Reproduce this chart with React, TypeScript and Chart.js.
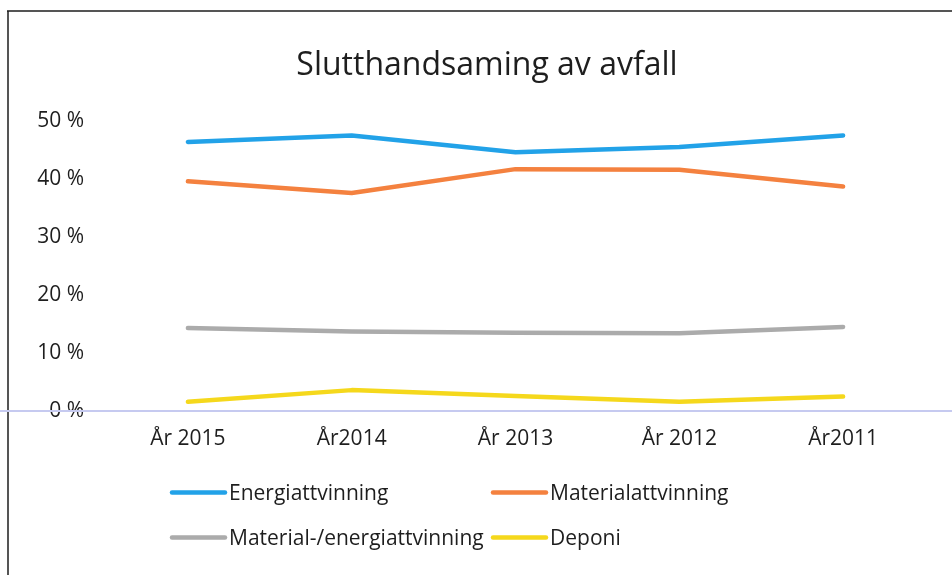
import React, { useEffect, useRef } from "react";
import { Chart, registerables } from "chart.js";

Chart.register(...registerables);

const chartTitle = "Slutthandsaming av avfall";
const categories = ["År 2015", "År2014", "År 2013", "År 2012", "År2011"];
const seriesNames = [
  "Energiattvinning",
  "Materialattvinning",
  "Material-/energiattvinning",
  "Deponi",
];
const energiattvinning = [46.4, 47.5, 44.6, 45.5, 47.5];
const materialattvinning = [39.6, 37.6, 41.7, 41.6, 38.7];
const materialEnergiattvinning = [14.3, 13.7, 13.5, 13.4, 14.5];
const deponi = [1.6, 3.6, 2.6, 1.6, 2.5];
const yMin = 0;
const yMax = 50;
const yStep = 10;

const seriesColors = ["#22a2e8", "#f4813f", "#ababab", "#f5d81c"];
const TEXT = "#1e1e1e";
const FONT = "'Open Sans', 'DejaVu Sans', sans-serif";

const framePlugin = {
  id: "frame",
  beforeDraw(chart: any) {
    const { ctx, width, height } = chart;
    ctx.save();
    ctx.fillStyle = "#ffffff";
    ctx.fillRect(0, 0, width, height);
    ctx.strokeStyle = "#1e1e1e";
    ctx.lineWidth = 1.5;
    ctx.beginPath();
    ctx.moveTo(7, 11);
    ctx.lineTo(width, 11);
    ctx.moveTo(8, 11);
    ctx.lineTo(8, height);
    ctx.stroke();
    ctx.restore();
  },
};

const titlePlugin = {
  id: "centeredTitle",
  afterDraw(chart: any) {
    const { ctx } = chart;
    ctx.save();
    ctx.fillStyle = TEXT;
    ctx.font = `32px ${FONT}`;
    ctx.textAlign = "center";
    ctx.textBaseline = "middle";
    ctx.fillText(chartTitle, 487, 66);
    ctx.restore();
  },
};

const zeroLinePlugin = {
  id: "zeroLine",
  beforeDatasetsDraw(chart: any) {
    const { ctx, width } = chart;
    const y = chart.scales.y.getPixelForValue(0);
    ctx.save();
    ctx.strokeStyle = "#c6caf0";
    ctx.lineWidth = 2;
    ctx.beginPath();
    ctx.moveTo(0, y);
    ctx.lineTo(width, y);
    ctx.stroke();
    ctx.restore();
  },
};

const gridLegendPlugin = {
  id: "gridLegend",
  afterDraw(chart: any) {
    const { ctx } = chart;
    const colX = [170, 491];
    const rowY = [494, 539];
    chart.data.datasets.forEach((ds: any, i: number) => {
      const x = colX[i % 2];
      const y = rowY[Math.floor(i / 2)];
      ctx.save();
      ctx.strokeStyle = ds.borderColor;
      ctx.lineWidth = 4.5;
      ctx.lineCap = "round";
      ctx.beginPath();
      ctx.moveTo(x + 2, y - 1.5);
      ctx.lineTo(x + 55, y - 1.5);
      ctx.stroke();
      ctx.fillStyle = TEXT;
      ctx.font = `21px ${FONT}`;
      ctx.textBaseline = "middle";
      ctx.textAlign = "left";
      ctx.fillText(ds.label, x + 59, y);
      ctx.restore();
    });
  },
};

export default function App() {
  const canvasRef = useRef<HTMLCanvasElement | null>(null);

  useEffect(() => {
    if (!canvasRef.current) return;
    const values = [energiattvinning, materialattvinning, materialEnergiattvinning, deponi];
    const chart = new Chart(canvasRef.current, {
      type: "line",
      data: {
        labels: categories,
        datasets: seriesNames.map((name, i) => ({
          label: name,
          data: values[i],
          borderColor: seriesColors[i],
          backgroundColor: seriesColors[i],
          borderWidth: 4.5,
          borderCapStyle: "round",
          borderJoinStyle: "round",
          pointRadius: 0,
          pointHoverRadius: 0,
          tension: 0,
          fill: false,
        })),
      },
      options: {
        responsive: false,
        animation: false,
        devicePixelRatio: 1,
        layout: { padding: { left: 0, right: 27, top: 121, bottom: 124 } },
        plugins: {
          legend: { display: false },
          tooltip: { enabled: false },
          title: { display: false },
        },
        scales: {
          x: {
            type: "category",
            offset: true,
            grid: { display: false, drawTicks: false },
            border: { display: false },
            ticks: {
              color: TEXT,
              font: { family: FONT, size: 21 },
              padding: 15,
              maxRotation: 0,
              autoSkip: false,
            },
            afterFit: (scale: any) => {
              scale.height = 40;
            },
          },
          y: {
            min: yMin,
            max: yMax,
            grid: { display: false, drawTicks: false },
            border: { display: false },
            ticks: {
              stepSize: yStep,
              color: TEXT,
              font: { family: FONT, size: 21 },
              padding: 22,
              callback: (v: any) => `${v} %`,
            },
            afterFit: (scale: any) => {
              scale.width = 106;
            },
          },
        },
      },
      plugins: [framePlugin, zeroLinePlugin, gridLegendPlugin, titlePlugin],
    } as any);
    return () => chart.destroy();
  }, []);

  return (
    <div
      style={{
        position: "fixed",
        left: 0,
        top: 0,
        width: 952,
        height: 575,
        background: "#ffffff",
      }}
    >
      <canvas ref={canvasRef} width={952} height={575} style={{ display: "block" }} />
    </div>
  );
}
